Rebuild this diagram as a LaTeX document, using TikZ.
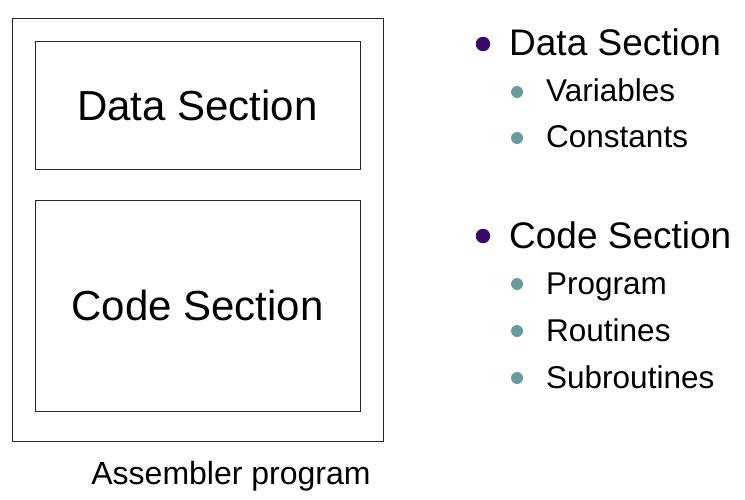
\documentclass[tikz,border=0pt]{standalone}
\usepackage{fontspec}
\setmainfont{Liberation Sans}
\usepackage{tikz}
\usetikzlibrary{positioning}

\definecolor{dotpurple}{HTML}{3A0A6A}
\definecolor{dotteal}{HTML}{669C9C}

\begin{document}
\begin{tikzpicture}[x=1pt,y=-1pt,
    part/.style={rectangle, draw=black!85, line width=0.9pt, inner sep=0pt},
    big/.style={font=\fontsize{42}{50}\selectfont},
    head/.style={anchor=base west, inner sep=0pt, font=\fontsize{37}{44}\selectfont},
    item/.style={anchor=base west, inner sep=0pt, font=\fontsize{31.5}{38}\selectfont},
    bigdot/.style={circle, fill=dotpurple, inner sep=0pt, minimum size=14.5pt},
    smalldot/.style={circle, fill=dotteal, inner sep=0pt, minimum size=12pt}]
		\useasboundingbox (0,0) rectangle (745,500);
		% the program and its two sections
		\node[part, minimum width=371pt, minimum height=423pt]	(prog) 	at (197.5,229.5) 	{};
		\node[part, big, minimum width=325pt, minimum height=128pt] 	(data) 	at (197.5,105) 	{Data Section};
		\node[part, big, minimum width=325pt, minimum height=211pt] 	(code) 	at (197.5,305.5) 	{Code Section};
		\node[anchor=base, inner sep=0pt, font=\fontsize{32}{38}\selectfont] 	(caption) 	at (231,484) 	{Assembler program};
		% the list on the right
		\node[head] 	(l_data) 	at (509,56) 	{Data Section};
		\node[item] 	(l_var) 	at (546,102) 	{Variables};
		\node[item] 	(l_const) 	at (546,148) 	{Constants};
		\node[head] 	(l_code) 	at (509,248) 	{Code Section};
		\node[item] 	(l_prog) 	at (546,294) 	{Program};
		\node[item] 	(l_rout) 	at (546,341) 	{Routines};
		\node[item] 	(l_sub) 	at (546,388) 	{Subroutines};
		\node[bigdot] 	(d_data) 	at (483,44) 	{};
		\node[bigdot] 	(d_code) 	at (483,236) 	{};
		\node[smalldot] 	(d_var) 	at (517,92) 	{};
		\node[smalldot] 	(d_const) 	at (517,138) 	{};
		\node[smalldot] 	(d_prog) 	at (517,284) 	{};
		\node[smalldot] 	(d_rout) 	at (517,331) 	{};
		\node[smalldot] 	(d_sub) 	at (517,378) 	{};
	\end{tikzpicture}
\end{document}
